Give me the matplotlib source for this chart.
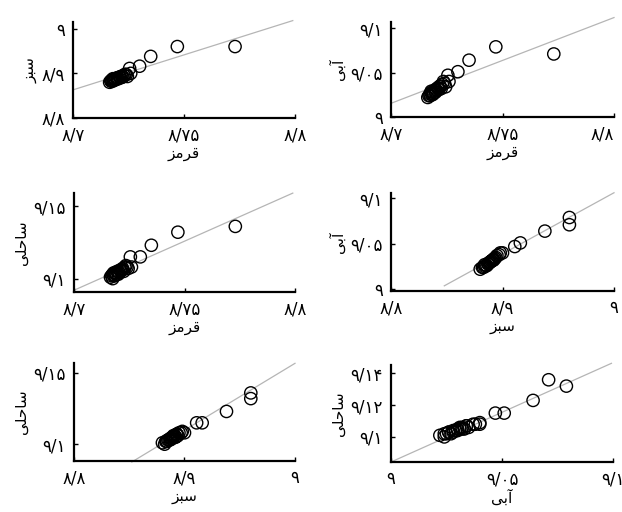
import matplotlib
matplotlib.use("Agg")
import matplotlib.pyplot as plt
import numpy as np

plt.rcParams['font.family'] = ['DejaVu Sans']

# Band values for each sample (dense cluster + spread-out samples)
red = [8.7170, 8.7175, 8.7180, 8.7185, 8.7190, 8.7190, 8.7195, 8.7200, 8.7200,
       8.7205, 8.7210, 8.7210, 8.7215, 8.7220, 8.7220, 8.7225, 8.7230, 8.7180,
       8.7165, 8.7240, 8.7185, 8.7235, 8.7175, 8.7245,
       8.7730, 8.7470, 8.7350, 8.7300, 8.7255, 8.7260]
green = [8.8830, 8.8850, 8.8840, 8.8870, 8.8860, 8.8880, 8.8890, 8.8870, 8.8900,
         8.8890, 8.8910, 8.8920, 8.8900, 8.8930, 8.8940, 8.8920, 8.8950, 8.8880,
         8.8800, 8.8970, 8.8840, 8.8980, 8.8820, 8.8930,
         8.9600, 8.9600, 8.9380, 8.9160, 8.9110, 8.9000]
blue = [9.0240, 9.0260, 9.0270, 9.0280, 9.0260, 9.0290, 9.0300, 9.0280, 9.0310,
        9.0300, 9.0320, 9.0330, 9.0310, 9.0340, 9.0350, 9.0320, 9.0370, 9.0290,
        9.0220, 9.0380, 9.0250, 9.0400, 9.0240, 9.0340,
        9.0710, 9.0790, 9.0640, 9.0510, 9.0470, 9.0400]
coastal = [9.1020, 9.1030, 9.1020, 9.1040, 9.1030, 9.1040, 9.1050, 9.1030, 9.1050,
           9.1040, 9.1060, 9.1050, 9.1060, 9.1070, 9.1060, 9.1050, 9.1080, 9.1040,
           9.1010, 9.1080, 9.1020, 9.1090, 9.1000, 9.1070,
           9.1360, 9.1320, 9.1230, 9.1150, 9.1150, 9.1080]

# Persian band names (pre-shaped presentation forms, visual order)
name_red = "\uFEB0\uFEE3\uFEAE\uFED7"            # قرمز
name_green = "\uFEB0\uFE92\uFEB3"                # سبز
name_blue = "\uFEF0\uFE91\uFE81"                 # آبی
name_coastal = "\uFEF0\uFEE0\uFEA3\uFE8E\uFEB3"  # ساحلی

bands = {'red': red, 'green': green, 'blue': blue, 'coastal': coastal}
names = {'red': name_red, 'green': name_green, 'blue': name_blue, 'coastal': name_coastal}

pairs = [('red', 'green'), ('red', 'blue'), ('red', 'coastal'),
         ('green', 'blue'), ('green', 'coastal'), ('blue', 'coastal')]

# fitted line: start x, end x, y at start, slope
fit_x0 = [8.700, 8.700, 8.700, 8.8478, 8.8523, 9.000]
fit_x1 = [8.799, 8.800, 8.799, 9.000, 9.000, 9.0993]
fit_y0 = [8.863, 9.0154, 9.092, 9.0037, 9.0875, 9.0842]
fit_slope = [1.567, 0.966, 0.676, 0.674, 0.469, 0.626]

# axis limits
xlims = [(8.7, 8.8), (8.7, 8.8), (8.7, 8.8), (8.8, 9.0), (8.8, 9.0), (9.0, 9.1)]
ylims = [(8.8, 9.015), (9.0, 9.107), (9.0908, 9.159), (8.998, 9.106),
         (9.0882, 9.157), (9.0842, 9.1453)]

# ticks
xtick_vals = [[8.7, 8.75, 8.8], [8.7, 8.75, 8.8], [8.7, 8.75, 8.8],
              [8.8, 8.9, 9.0], [8.8, 8.9, 9.0], [9.0, 9.05, 9.1]]
xtick_labels = [['۸/۷', '۸/۷۵', '۸/۸'], ['۸/۷', '۸/۷۵', '۸/۸'], ['۸/۷', '۸/۷۵', '۸/۸'],
                ['۸/۸', '۸/۹', '۹'], ['۸/۸', '۸/۹', '۹'], ['۹', '۹/۰۵', '۹/۱']]
ytick_vals = [[8.8, 8.9, 9.0], [9.0, 9.05, 9.1], [9.1, 9.15],
              [9.0, 9.05, 9.1], [9.1, 9.15], [9.1, 9.12, 9.14]]
ytick_labels = [['۸/۸', '۸/۹', '۹'], ['۹', '۹/۰۵', '۹/۱'], ['۹/۱', '۹/۱۵'],
                ['۹', '۹/۰۵', '۹/۱'], ['۹/۱', '۹/۱۵'], ['۹/۱', '۹/۱۲', '۹/۱۴']]

W, H = 622, 512
# axes boxes in pixels: left, right, top, bottom
boxes = [(73, 295, 22, 118), (391, 614, 22, 117),
         (74, 295, 193, 292), (391, 614, 193, 291),
         (74, 295, 363, 461), (391, 613, 365, 462)]

fig = plt.figure(figsize=(W / 100, H / 100), dpi=100)
fig.patch.set_facecolor('white')

for i, (bx, by) in enumerate(pairs):
    l, r, t, b = boxes[i]
    ax = fig.add_axes([l / W, (H - b) / H, (r - l) / W, (b - t) / H])
    x = np.array(bands[bx])
    y = np.array(bands[by])
    lx = np.array([fit_x0[i], fit_x1[i]])
    ly = fit_y0[i] + fit_slope[i] * (lx - fit_x0[i])
    ax.plot(lx, ly, color='#b5b5b5', lw=0.9, zorder=1, clip_on=False)
    ax.scatter(x, y, s=78, facecolors='none', edgecolors='black',
               linewidths=1.0, zorder=2, clip_on=False)
    ax.set_xlim(*xlims[i])
    ax.set_ylim(*ylims[i])
    ax.set_xticks(xtick_vals[i])
    ax.set_xticklabels(xtick_labels[i])
    ax.set_yticks(ytick_vals[i])
    ax.set_yticklabels(ytick_labels[i])
    for s in ['top', 'right']:
        ax.spines[s].set_visible(False)
    for s in ['left', 'bottom']:
        ax.spines[s].set_linewidth(1.6)
        ax.spines[s].set_color('black')
    ax.tick_params(direction='in', length=3, width=1, labelsize=12, pad=6)
    if i == 1:
        ax.get_xticklabels()[-1].set_horizontalalignment('right')
    ax.set_xlabel(names[bx], fontsize=11, labelpad=1)
    ax.set_ylabel(names[by], fontsize=11, labelpad=3)
    ax.set_facecolor('none')

fig.savefig('out.png', dpi=100)
